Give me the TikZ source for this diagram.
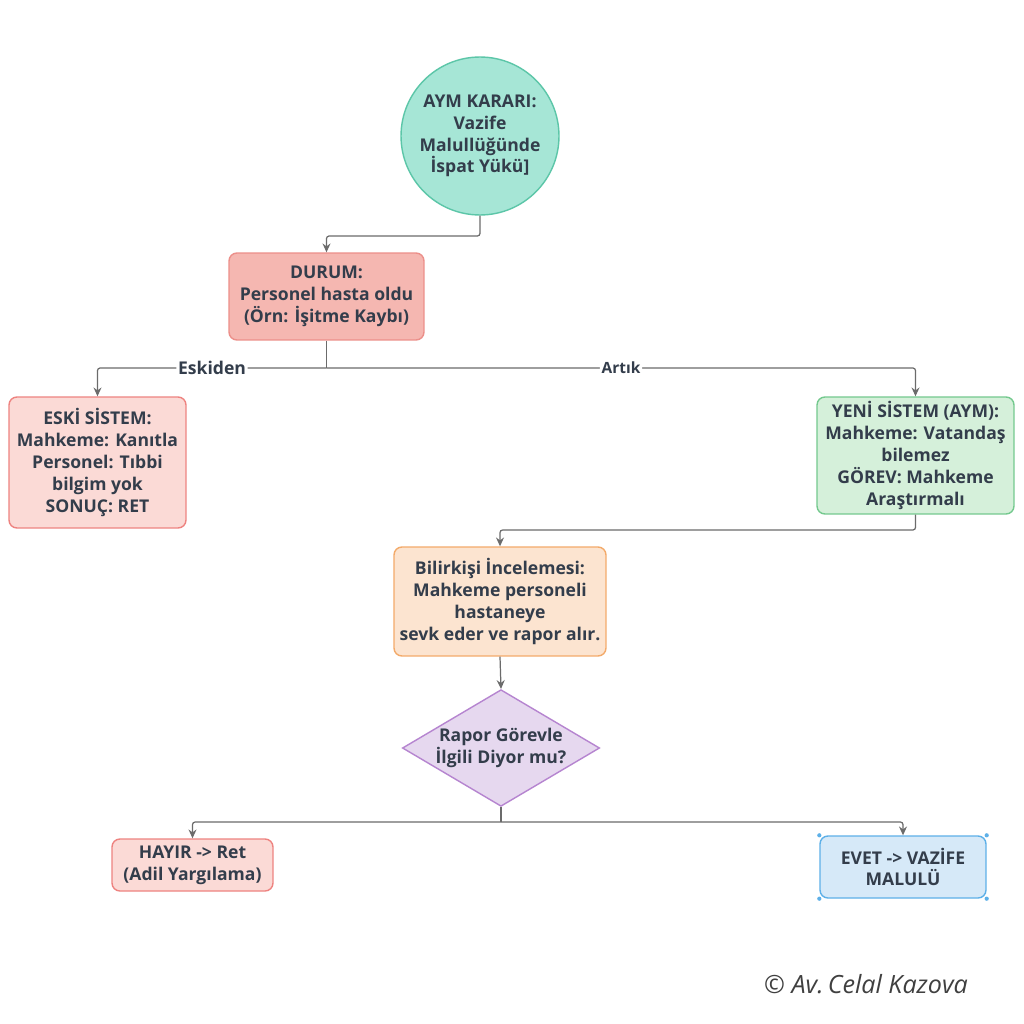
\documentclass[tikz,border=0pt]{standalone}
\usepackage{fontspec}
\setmainfont{Open Sans}
\usetikzlibrary{shapes.geometric,arrows.meta}
\definecolor{txt}{HTML}{333D4B}
\definecolor{ln}{HTML}{6B6B6B}
\definecolor{tealF}{HTML}{A6E6D6}\definecolor{tealD}{HTML}{5CC6A8}
\definecolor{durF}{HTML}{F5B7B1}\definecolor{durD}{HTML}{EC8F8A}
\definecolor{pinkF}{HTML}{FBDAD6}\definecolor{pinkD}{HTML}{EE8380}
\definecolor{grnF}{HTML}{D5F0DA}\definecolor{grnD}{HTML}{74C98E}
\definecolor{orF}{HTML}{FCE4D0}\definecolor{orD}{HTML}{F3AA6A}
\definecolor{purF}{HTML}{E6D8EF}\definecolor{purD}{HTML}{B685D0}
\definecolor{bluF}{HTML}{D6E9F8}\definecolor{bluD}{HTML}{5DB0E8}
\tikzset{
  base/.style={draw, line width=0.8pt, align=center, text=txt, inner sep=0pt,
    font=\fontsize{10}{12.4}\selectfont\bfseries},
  boxst/.style={base, rectangle, rounded corners=4.5pt},
  conn/.style={draw=ln, line width=0.7pt, rounded corners=1.5pt},
  arr/.style={conn, -{Stealth[length=5pt,width=4.5pt]}},
  lbl/.style={fill=white, text=txt, inner sep=1pt, font=\fontsize{10}{11}\selectfont\bfseries},
}
\begin{document}
\begin{tikzpicture}[x=0.02cm,y=-0.02cm]
\useasboundingbox (0,0) rectangle (1024,1024);
\fill[white] (0,0) rectangle (1024,1024);

\node[base, circle, fill=tealF, draw=tealD, minimum size=3.16cm] (circ) at (480,136)
  {AYM KARARI:\\Vazife\\Malullüğünde\\İspat Yükü]};
\node[boxst, fill=durF, draw=durD, minimum width=3.9cm, minimum height=1.74cm] (durum) at (326.5,296.5)
  {DURUM:\\Personel hasta oldu\\(Örn: İşitme Kaybı)};
\node[boxst, fill=pinkF, draw=pinkD, minimum width=3.54cm, minimum height=2.62cm] (eski) at (97.5,462.5)
  {ESKİ SİSTEM:\\Mahkeme: Kanıtla\\Personel: Tıbbi\\bilgim yok\\SONUÇ: RET};
\node[boxst, fill=grnF, draw=grnD, minimum width=3.94cm, minimum height=2.34cm] (yeni) at (915.5,455.5)
  {YENİ SİSTEM (AYM):\\Mahkeme: Vatandaş\\bilemez\\GÖREV: Mahkeme\\Araştırmalı};
\node[boxst, fill=orF, draw=orD, minimum width=4.24cm, minimum height=2.18cm] (bilir) at (500,601.5)
  {Bilirkişi İncelemesi:\\Mahkeme personeli\\hastaneye\\sevk eder ve rapor alır.};
\node[base, diamond, aspect=1.69, fill=purF, draw=purD, minimum width=3.92cm, minimum height=2.32cm] (dia) at (501,748)
  {Rapor Görevle\\İlgili Diyor mu?};
\node[boxst, fill=pinkF, draw=pinkD, minimum width=3.22cm, minimum height=1.04cm] (hayir) at (192.5,865)
  {HAYIR -> Ret\\(Adil Yargılama)};
\node[boxst, fill=bluF, draw=bluD, minimum width=3.32cm, minimum height=1.24cm] (evet) at (903,867)
  {EVET -> VAZİFE\\MALULÜ};
\foreach \c in {north west,north east,south west,south east}
  \fill[bluD] (evet.\c) circle (1.2pt);

\coordinate (j1) at (0,236);
\coordinate (j2) at (0,368);
\coordinate (j3) at (0,530);
\coordinate (j4) at (0,822);

\draw[arr] (circ.south) -- (circ.south |- j1) -| (durum.north);
\draw[conn] (durum.south) -- (durum.south |- j2) coordinate (s1);
\draw[arr] (s1) -| node[lbl, pos=0.25] (lesk) {Eskiden} (eski.north);
\draw[arr] (s1) -| node[lbl, pos=0.25, font=\fontsize{8.8}{10}\selectfont\bfseries] (lart) {Artık} (yeni.north);
\draw[arr] (yeni.south) -- (yeni.south |- j3) -| (bilir.north);
\draw[arr] (bilir.south) -- (dia.north);
\draw[conn] (dia.south) -- (dia.south |- j4) coordinate (s2);
\draw[arr] (s2) -| (hayir.north);
\draw[arr] (s2) -| (evet.north);

\node[text=black!75, font=\fontsize{14.3}{16}\selectfont\itshape] (copy) at (866,984) {© Av.\,Celal Kazova};
\end{tikzpicture}
\end{document}
